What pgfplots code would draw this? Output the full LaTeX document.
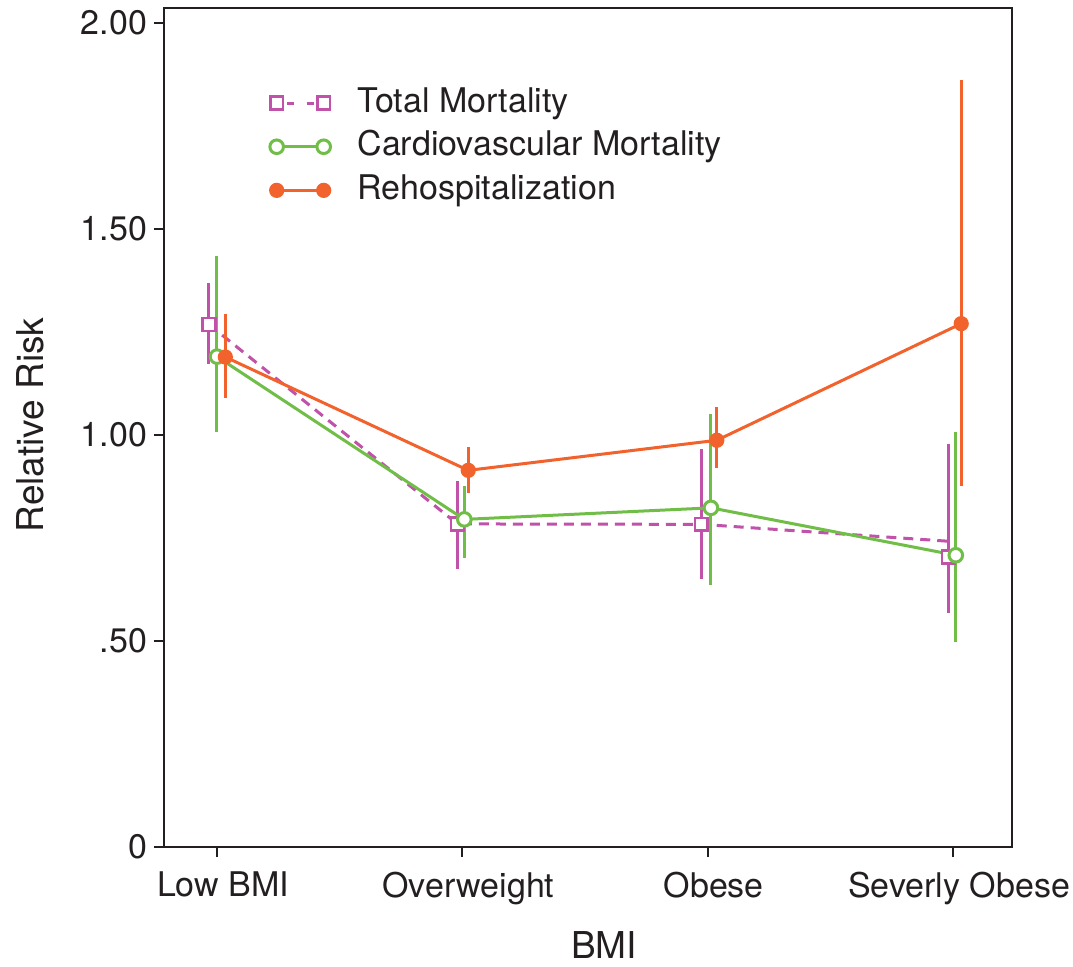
\documentclass[border=0pt]{standalone}
\usepackage{fontspec}
\setmainfont{TeX Gyre Heros}
\usepackage{pgfplots}
\usepackage{pgfplotstable}
\pgfplotsset{compat=1.18}
\definecolor{cpink}{RGB}{192,82,170}
\definecolor{cgreen}{RGB}{112,190,72}
\definecolor{corange}{RGB}{242,98,45}
\definecolor{ctext}{RGB}{35,31,32}

\pgfplotstableread{
x      y      ep     em
-0.033 1.268  0.100  0.096
0.980  0.784  0.103  0.110
1.974  0.783  0.183  0.133
2.980  0.704  0.275  0.137
}\totalmort
\pgfplotstableread{
x      y
-0.033 1.268
0.980  0.784
1.974  0.783
2.980  0.742
}\totalline
\pgfplotstableread{
x      y      ep     em
0.000  1.190  0.243  0.183
1.008  0.795  0.080  0.093
2.013  0.823  0.228  0.186
3.011  0.708  0.300  0.210
}\cvmort
\pgfplotstableread{
x      y      ep     em
0.034  1.189  0.105  0.100
1.024  0.914  0.056  0.055
2.037  0.987  0.080  0.067
3.033  1.270  0.592  0.395
}\rehosp

\begin{document}
\begin{tikzpicture}
\path[use as bounding box] (-82pt,-59.5pt) rectangle (454.5pt,423.5pt);
\begin{axis}[
  scale only axis, width=424pt, height=419.5pt,
  at={(0pt,0pt)}, anchor=south west,
  xmin=-0.216, xmax=3.24, ymin=0, ymax=2.036,
  xtick={0,1,2,3}, xticklabels={Low BMI,Overweight,Obese,Severly Obese},
  ytick={0,0.5,1,1.5,2}, yticklabels={0,.50,1.00,1.50,2.00},
  tick align=outside, major tick length=5pt, tick pos=left,
  axis line style={line width=1.1pt, ctext},
  every tick/.style={line width=1pt, ctext},
  ticklabel style={font=\fontsize{17}{20}\selectfont, text=ctext},
  xticklabel style={yshift=-4pt, xshift=3pt},
  xlabel={BMI}, ylabel={Relative Risk},
  every axis x label/.style={at={(axis description cs:0.519,-0.1168)}, anchor=center, font=\fontsize{18.5}{22}\selectfont, text=ctext},
  every axis y label/.style={at={(axis description cs:-0.158,0.503)}, anchor=center, rotate=90, font=\fontsize{18.5}{22}\selectfont, text=ctext},
  legend image code/.code={\draw[mark repeat=1,mark phase=1,#1] plot coordinates {(0pt,0pt) (23.5pt,0pt)};},
  legend style={at={(axis description cs:0.1244,0.906)}, anchor=north west, draw=none, fill=none, inner sep=0pt, row sep=5.9pt,
    font=\fontsize{17}{20}\selectfont, text=ctext,
    nodes={inner sep=0pt, text height=12.4pt, text depth=3.5pt, anchor=west},
    /tikz/every odd column/.append style={column sep=13.5pt}},
  legend cell align=left,
]
\addlegendimage{cpink, line width=1.5pt, dash pattern=on 3.5pt off 6.5pt, dash phase=5pt, mark=square*, mark size=3.2pt, mark options={solid, fill=white, line width=1.3pt}}
\addlegendentry{Total Mortality}
\addlegendimage{cgreen, line width=1.5pt, mark=*, mark size=3.4pt, mark options={fill=white, line width=1.5pt}}
\addlegendentry{Cardiovascular Mortality}
\addlegendimage{corange, line width=1.5pt, mark=*, mark size=3.3pt, mark options={fill=corange, line width=1pt}}
\addlegendentry{Rehospitalization}

% Total mortality
\addplot[forget plot, cpink, line width=1.5pt, dash pattern=on 5pt off 3.5pt, mark=none] table[x=x,y=y] {\totalline};
\addplot[forget plot, cpink, only marks, mark=none,
  error bars/.cd, y dir=both, y explicit, error mark=none,
  error bar style={line width=1.5pt, solid, cpink}]
  table[x=x,y=y,y error plus=ep,y error minus=em] {\totalmort};
\addplot[forget plot, cpink, only marks, mark=square*, mark size=3.2pt, mark options={solid, fill=white, line width=1.3pt}]
  table[x=x,y=y] {\totalmort};
% Cardiovascular
\addplot[forget plot, cgreen, only marks, mark=none,
  error bars/.cd, y dir=both, y explicit, error mark=none,
  error bar style={line width=1.5pt, solid, cgreen}]
  table[x=x,y=y,y error plus=ep,y error minus=em] {\cvmort};
\addplot[forget plot, cgreen, line width=1.5pt, mark=*, mark size=3.4pt, mark options={fill=white, line width=1.5pt}]
  table[x=x,y=y] {\cvmort};
% Rehospitalization
\addplot[forget plot, corange, only marks, mark=none,
  error bars/.cd, y dir=both, y explicit, error mark=none,
  error bar style={line width=1.5pt, solid, corange}]
  table[x=x,y=y,y error plus=ep,y error minus=em] {\rehosp};
\addplot[forget plot, corange, line width=1.5pt, mark=*, mark size=3.3pt, mark options={fill=corange, line width=1pt}]
  table[x=x,y=y] {\rehosp};
\end{axis}
\end{tikzpicture}
\end{document}
